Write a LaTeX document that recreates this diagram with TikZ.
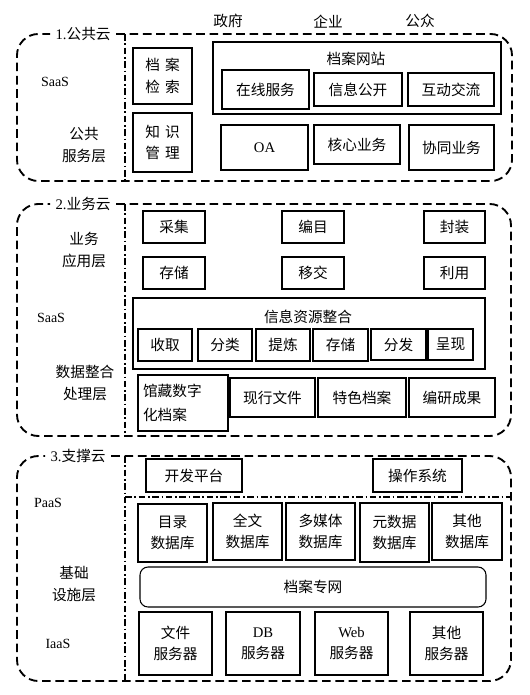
\documentclass[tikz,border=0pt]{standalone}
\usepackage{fontspec}
\setmainfont{Liberation Serif}
\newfontfamily\cjk{Noto Sans CJK SC}
\tikzset{
  box/.style={draw,line width=0.8pt,inner sep=1pt,align=center,font=\cjk\fontsize{11}{16}\selectfont},
  lab/.style={inner sep=1pt,align=center,font=\cjk\fontsize{11}{16.5}\selectfont},
  ttl/.style={lab,inner xsep=4pt},
  latin/.style={inner sep=1pt,font=\fontsize{10.5}{12}\selectfont},
  cloud/.style={line width=1.4pt,dash pattern=on 6.5pt off 3.5pt,rounded corners=16pt},
  dashdot/.style={line width=1.2pt,dash pattern=on 5pt off 2pt on 1.2pt off 2pt},
}
\newcommand\bx[7][]{\node[box,#1,minimum width={(#5-#3)*0.75pt},minimum height={(#6-#4)*0.75pt}] (#2) at ({(#3+#5)/2},{(#4+#6)/2}) {#7};}
\begin{document}
\begin{tikzpicture}[x=0.75pt,y=-0.75pt]
\useasboundingbox (0,0) rectangle (529,695);
\fill[white] (0,0) rectangle (529,695);
% top labels
\node[lab] (zf) at (228,21) {政府};
\node[lab] (qy) at (328,22) {企业};
\node[lab] (gz) at (420,21) {公众};
% ---------- cloud 1
\node[ttl,anchor=west] (t1) at (50,34) {\rmfamily 1.\cjk 公共云};
\draw[cloud] (t1.east) -- (512,34) -- (512,181) -- (17,181) -- (17,34) -- (t1.west);
\draw[dashdot] (125,34) -- (125,181);
\node[latin] (saas1) at (55,82) {SaaS};
\node[lab] (gg) at (84,145) {公共\\服务层};
\bx{daj}{133}{48}{192}{104}{档\hspace{0.35em}案\\检\hspace{0.35em}索}
\bx{zsgl}{133}{113}{192}{172}{知\hspace{0.35em}识\\管\hspace{0.35em}理}
\bx{web}{213}{42}{501}{114}{}
\node[lab] (webt) at (356,59) {档案网站};
\bx{zxfw}{222}{70}{309}{109}{在线服务}
\bx{xxgk}{314}{73}{402}{106}{信息公开}
\bx{hdjl}{408}{73}{494}{106}{互动交流}
\bx{oa}{221}{125}{308}{170}{\rmfamily OA}
\bx{hxyw}{314}{125}{400}{164}{核心业务}
\bx{xtyw}{409}{125}{494}{170}{协同业务}
% ---------- cloud 2
\node[ttl,anchor=west] (t2) at (50,204) {\rmfamily 2.\cjk 业务云};
\draw[cloud] (t2.east) -- (511,204) -- (511,436) -- (17,436) -- (17,204) -- (t2.west);
\draw[dashdot] (125,204) -- (125,436);
\node[lab] (ywyy) at (84,250) {业务\\应用层};
\node[latin] (saas2) at (51,318) {SaaS};
\node[lab] (sjzh) at (85,383) {数据整合\\处理层};
\bx{cj}{143}{211}{205}{243}{采集}
\bx{bm}{282}{211}{344}{243}{编目}
\bx{fz}{424}{211}{485}{243}{封装}
\bx{cc}{143}{257}{205}{289}{存储}
\bx{yj}{282}{257}{344}{289}{移交}
\bx{ly}{424}{257}{485}{289}{利用}
\bx{xxzy}{133}{298}{485}{369}{}
\node[lab] (xxzyt) at (308,317) {信息资源整合};
\bx{sq}{138}{329}{192}{361}{收取}
\bx{fl}{198}{329}{252}{361}{分类}
\bx{tl}{256}{329}{310}{361}{提炼}
\bx{cc2}{313}{329}{368}{361}{存储}
\bx{ff}{371}{329}{426}{360}{分发}
\bx{cx}{428}{329}{473}{360}{呈现}
\bx[align=left,text width=80*0.75pt,font=\cjk\fontsize{11}{18}\selectfont]{gc}{138}{375}{228}{431}{馆藏数字\\化档案}
\bx{xxwj}{230}{378}{315}{417}{现行文件}
\bx{tsda}{318}{378}{406}{417}{特色档案}
\bx{bycg}{409}{378}{495}{417}{编研成果}
% ---------- cloud 3
\node[ttl,anchor=west] (t3) at (45,456) {\rmfamily 3.\cjk 支撑云};
\draw[cloud] (t3.east) -- (511,456) -- (511,681) -- (17,681) -- (17,456) -- (t3.west);
\draw[dashdot] (125,456) -- (125,681);
\draw[dashdot] (125,497) -- (511,497);
\node[latin] (paas) at (48,503) {PaaS};
\node[lab] (jc) at (74,584) {基础\\设施层};
\node[latin] (iaas) at (58,644) {IaaS};
\bx{kfpt}{146}{459}{242}{492}{开发平台}
\bx{czxt}{373}{459}{462}{492}{操作系统}
\bx{ml}{138}{504}{207}{562}{目录\\数据库}
\bx{qw}{213}{503}{282}{560}{全文\\数据库}
\bx{dmt}{286}{503}{355}{560}{多媒体\\数据库}
\bx{ysj}{360}{503}{429}{562}{元数据\\数据库}
\bx{qt}{432}{503}{502}{560}{其他\\数据库}
\bx[rounded corners=6pt]{dazw}{140}{567}{486}{607}{档案专网}
\bx{wj}{139}{612}{212}{675}{文件\\服务器}
\bx{db}{226}{612}{300}{675}{{\rmfamily DB}\\服务器}
\bx{wb}{315}{612}{388}{675}{{\rmfamily Web}\\服务器}
\bx{qtf}{410}{612}{483}{675}{其他\\服务器}
\end{tikzpicture}
\end{document}
